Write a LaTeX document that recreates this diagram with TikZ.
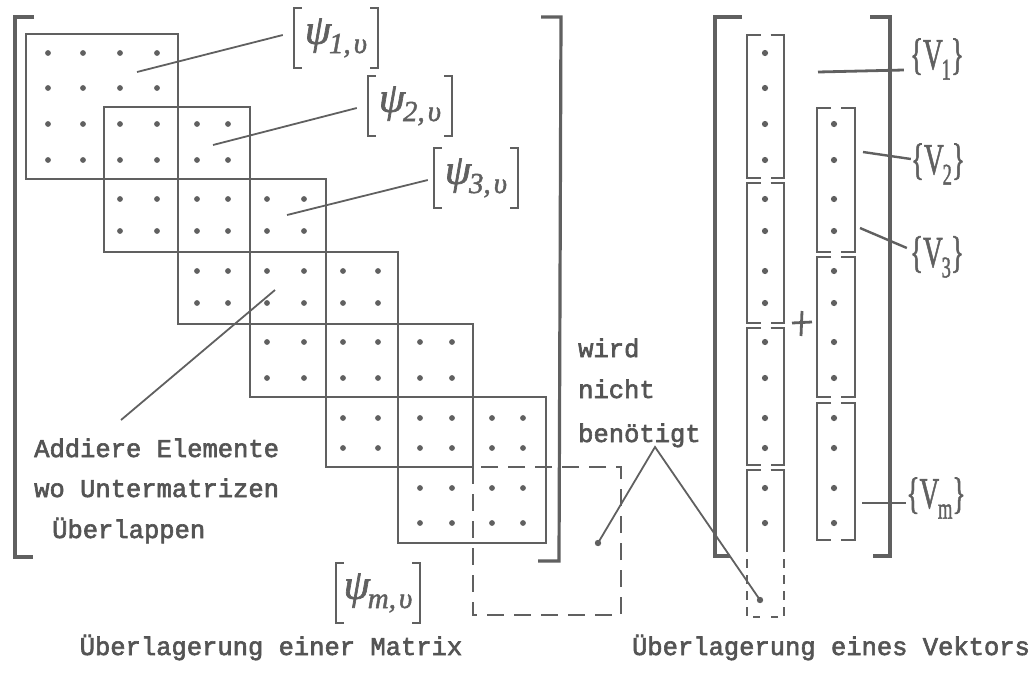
\documentclass[tikz,border=0pt]{standalone}
\usepackage{fontspec}
\newfontfamily\typewriter[FakeBold=2.4]{Liberation Mono}
\newfontfamily\handfont[FakeBold=1.6]{Liberation Serif}
\definecolor{ink}{RGB}{96,96,96}
\definecolor{typeink}{RGB}{84,84,84}
\tikzset{
  block/.style={draw=ink, line width=2pt},
  notneeded/.style={draw=ink, line width=2pt, dash pattern=on 17pt off 10pt},
  bracket/.style={draw=ink, line width=3.2pt},
  small bracket/.style={draw=ink, line width=2.4pt},
  leader/.style={draw=ink, line width=1.8pt},
  heavy leader/.style={draw=ink, line width=2.8pt},
  typed/.style={text=typeink, font=\typewriter\fontsize{25.5}{30}\selectfont, inner sep=0pt, anchor=base west},
  title/.style={text=typeink, font=\typewriter\fontsize{25.5}{30}\selectfont, inner sep=0pt, anchor=base},
  hand/.style={text=ink, inner sep=0pt, font=\handfont\itshape\fontsize{42}{48}\selectfont,
    minimum width=84pt, minimum height=60pt},
  vlabel/.style={text=ink, inner sep=0pt, font=\handfont\fontsize{44}{50}\selectfont},
}
% one vector part: two bracket halves with a gap in the middle
\newcommand\vecpart[4]{%
  \pgfmathsetmacro\xm{(#1+#2)/2}
  \draw[block] (\xm-5,#3) -- (#1,#3) -- (#1,#4) -- (\xm-5,#4);
  \draw[block] (\xm+5,#3) -- (#2,#3) -- (#2,#4) -- (\xm+5,#4);
}
% lowered index in the hand lettering
\newcommand\idx[2]{\raisebox{-0.22em}{\fontsize{29}{30}\selectfont #1,\kern3pt#2}}
% a sub-matrix label in square brackets
\newcommand\psilabel[4]{%
  \node[hand] (#1) at (#2) {ψ\kern-2pt\idx{#3}{#4}};
  \draw[small bracket] ([xshift=8pt]#1.north west) -- (#1.north west)
    -- (#1.south west) -- ([xshift=8pt]#1.south west);
  \draw[small bracket] ([xshift=-8pt]#1.north east) -- (#1.north east)
    -- (#1.south east) -- ([xshift=-8pt]#1.south east);
}
% a sub-vector label in braces
\newcommand\vlab[1]{\scalebox{0.62}[1]{\{V\kern-2pt\raisebox{-0.24em}{\fontsize{30}{30}\selectfont #1}\}}}
\begin{document}
\begin{tikzpicture}[x=1pt,y=-1pt]
\useasboundingbox (0,0) rectangle (1036,678);

% grid lines of the assembled matrix and positions of the entries
\def\gx{{26,104,178,250,326,398,473,546,621}}
\def\gy{{34,107,179,252,324,397,467,543,615}}
\def\dx{{48,83,120,157,197,228,267,304,343,378,420,452,492,523}}
\def\dy{{53,88,124,160,199,231,271,303,342,378,418,448,488,523}}

% overlapping sub-matrices
\foreach \k in {0,...,5}{
  \pgfmathsetmacro\xa{\gx[\k]}
  \pgfmathsetmacro\xb{\gx[\k+2]}
  \pgfmathsetmacro\ya{\gy[\k]}
  \pgfmathsetmacro\yb{\gy[\k+2]}
  \draw[block] (\xa,\ya) rectangle (\xb,\yb);
}
\draw[notneeded] (473,467) rectangle (621,615);

% entries of the band
\foreach \i in {0,...,6}{
  \foreach \j in {0,...,6}{
    \pgfmathtruncatemacro\dd{abs(\i-\j)}
    \ifnum\dd<2
      \foreach \a in {0,1}{
        \foreach \b in {0,1}{
          \pgfmathsetmacro\px{\dx[2*\i+\a]}
          \pgfmathsetmacro\py{\dy[2*\j+\b]}
          \fill[ink] (\px,\py) circle (2.9pt);
        }
      }
    \fi
  }
}

% outer brackets of the matrix
\draw[bracket] (34,17) -- (15,17) -- (15,557) -- (33,557);
\draw[bracket] (541,17) -- (561,17) -- (559,561) -- (538,561);

% vector parts
\vecpart{747}{784}{35}{178}
\vecpart{747}{784}{183}{323}
\vecpart{747}{784}{328}{465}
\draw[block] (760.5,470) -- (747,470) -- (747,543);
\draw[block] (770.5,470) -- (784,470) -- (784,543);
\draw[block, dash pattern=on 9pt off 7pt] (747,543) -- (747,617) -- (760,617);
\draw[block, dash pattern=on 9pt off 7pt] (784,543) -- (784,617) -- (771,617);
\vecpart{817}{855}{108}{252}
\vecpart{817}{855}{257}{397}
\vecpart{817}{855}{403}{540}
\foreach \b in {0,...,13}{
  \pgfmathsetmacro\py{\dy[\b]}
  \fill[ink] (765,\py) circle (3.1pt);
}
\foreach \b in {2,...,13}{
  \pgfmathsetmacro\py{\dy[\b]}
  \fill[ink] (834,\py) circle (3.1pt);
}
% plus sign between the two columns
\coordinate (plus) at (802,323);
\draw[ink, line width=2.8pt] ([xshift=-10pt]plus) -- ([xshift=10pt,yshift=1pt]plus);
\draw[ink, line width=2.8pt] ([yshift=12pt]plus) -- ([xshift=-1pt,yshift=-13pt]plus);

% outer brackets of the vector
\draw[bracket] (742,17) -- (715,17) -- (715,556) -- (730,556);
\draw[bracket] (870,17) -- (890,17) -- (890,556) -- (873,556);

% sub-matrix labels
\psilabel{psi1}{336,38}{1}{υ}
\psilabel{psi2}{410,106}{2}{υ}
\psilabel{psi3}{476,178}{3}{υ}
\psilabel{psim}{378,593}{m}{υ}

% sub-vector labels
\node[vlabel] (v1) at (937,59) {\vlab{1}};
\node[vlabel] (v2) at (938,164) {\vlab{2}};
\node[vlabel] (v3) at (937,257) {\vlab{3}};
\node[vlabel] (vm) at (936,498) {\vlab{m}};

% typed notes
\node[typed] (add1) at (34,457) {Addiere Elemente};
\node[typed] (add2) at (34,497) {wo Untermatrizen};
\node[typed] (add3) at (52,538) {Überlappen};
\node[typed] (wird) at (578,357) {wird};
\node[typed] (nicht) at (578,398) {nicht};
\node[typed] (ben) at (578,442) {benötigt};
\node[title] (t1) at (271,655) {Überlagerung einer Matrix};
\node[title] (t2) at (831,655) {Überlagerung eines Vektors};

% leader lines
\coordinate (a1) at (137,72);
\coordinate (a2) at (213,145);
\coordinate (a3) at (287,215);
\coordinate (a4) at (275,290);
\draw[leader] (a1) -- ([xshift=-11pt,yshift=3pt]psi1.west);
\draw[leader] (a2) -- ([xshift=-11pt,yshift=-2pt]psi2.west);
\draw[leader] (a3) -- ([xshift=-6pt,yshift=-2pt]psi3.west);
\draw[leader] ([xshift=87pt,yshift=37pt]add1.base west) -- (a4);

\coordinate (nn1) at (598,543);
\coordinate (nn2) at (760,600);
\draw[leader] (nn1) -- ([xshift=77pt,yshift=-5pt]ben.base west) -- (nn2);
\fill[ink] (nn1) circle (3.2pt);
\fill[ink] (nn2) circle (3.2pt);

\coordinate (b1) at (818,72);
\coordinate (b2) at (863,152);
\coordinate (b3) at (860,228);
\coordinate (bm) at (862,503);
\draw[heavy leader] (b1) -- ([xshift=-6pt,yshift=-11pt]v1.west);
\draw[leader, line width=2.4pt] (b2) -- ([yshift=5pt]v2.west);
\draw[leader, line width=2.4pt] (b3) -- ([xshift=-3pt,yshift=9pt]v3.west);
\draw[leader, line width=2.4pt] (bm) -- ([yshift=-5pt]vm.west);
\end{tikzpicture}
\end{document}
